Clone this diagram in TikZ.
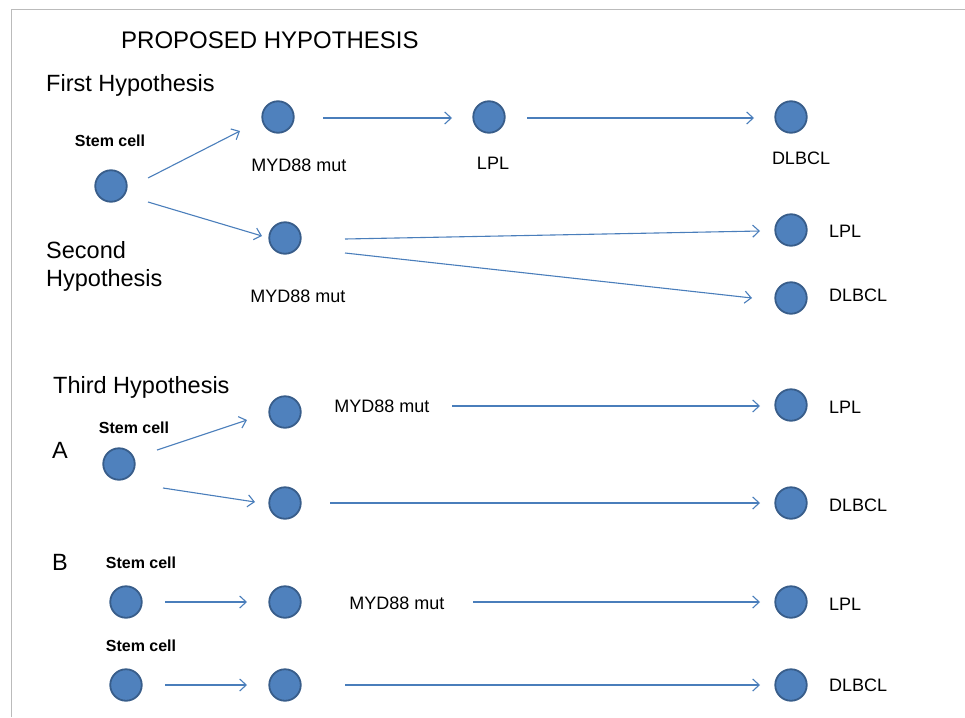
\documentclass[tikz,border=0pt]{standalone}
\usepackage{fontspec}
\setmainfont{Liberation Sans}
\usetikzlibrary{arrows.meta}
\definecolor{cellfill}{HTML}{4F81BD}
\definecolor{celldraw}{HTML}{385D8A}
\definecolor{arrowcol}{HTML}{4A7EBB}
\definecolor{framecol}{HTML}{BBBBBB}
\begin{document}
\begin{tikzpicture}[x=1pt,y=-1pt,
  cell/.style={circle,fill=cellfill,draw=celldraw,line width=1.8pt,minimum size=31.5pt,inner sep=0pt},
  lbl/.style={font=\fontsize{18}{20}\selectfont,inner sep=0pt},
  stemlbl/.style={font=\fontsize{16}{18}\selectfont\bfseries,inner sep=0pt},
  head/.style={font=\fontsize{23.5}{28}\selectfont,inner sep=0pt,anchor=west},
  conn/.style={draw=arrowcol,line width=1.1pt,-{Straight Barb[length=6.5pt,width=12pt,line width=1.1pt]}},
  plain/.style={draw=arrowcol,line width=1.1pt}]
\useasboundingbox (0,0) rectangle (965,717);
\draw[framecol,line width=1pt] (11,717) -- (11,10) -- (965,10);

% headings
\node[head,font=\fontsize{24}{28}\selectfont] (title) at (121,40) {PROPOSED HYPOTHESIS};
\node[head] (h1) at (46,85) {First Hypothesis};
\node[head,align=left] (h2) at (46,266) {Second\\Hypothesis};
\node[head] (h3) at (53,387) {Third Hypothesis};
\node[head] (la) at (52,450) {A};
\node[head] (lb) at (52,562) {B};

% first hypothesis
\node[cell] (s1) at (111,186) {};
\node[stemlbl] (s1l) at (110,141) {Stem cell};
\node[cell] (m1) at (278,117) {};
\node[lbl] (m1l) at (299,165) {MYD88 mut};
\node[cell] (p1) at (489,117) {};
\node[lbl] (p1l) at (493,163) {LPL};
\node[cell] (d1) at (791,117) {};
\node[lbl] (d1l) at (801,158) {DLBCL};
\path[conn] ([shift={(37,-8)}]s1.center) -- ([shift={(-38,14)}]m1.center);
\path[conn] ([shift={(45,1)}]m1.center) -- ([shift={(-37,1)}]p1.center);
\path[conn] ([shift={(38,1)}]p1.center) -- ([shift={(-37,1)}]d1.center);

% second hypothesis
\node[cell] (m2) at (285,238) {};
\node[lbl] (m2l) at (298,296) {MYD88 mut};
\node[cell] (p2) at (791,230) {};
\node[lbl,anchor=west] (p2l) at (829,231) {LPL};
\node[cell] (d2) at (791,298) {};
\node[lbl,anchor=west] (d2l) at (829,295) {DLBCL};
\path[conn] ([shift={(37,16)}]s1.center) -- ([shift={(-23,-2)}]m2.center);
\path[conn] ([shift={(60,1)}]m2.center) -- ([shift={(-31,1)}]p2.center);
\path[conn] ([shift={(60,15)}]m2.center) -- ([shift={(-39,0)}]d2.center);

% third hypothesis A
\node[cell] (s3) at (119,464) {};
\node[stemlbl] (s3l) at (134,428) {Stem cell};
\node[cell] (m3) at (285,412) {};
\node[lbl] (m3l) at (382,406) {MYD88 mut};
\node[cell] (p3) at (791,405) {};
\node[lbl,anchor=west] (p3l) at (829,407) {LPL};
\node[cell] (x3) at (285,503) {};
\node[cell] (d3) at (791,503) {};
\node[lbl,anchor=west] (d3l) at (829,505) {DLBCL};
\coordinate (m3a) at (452,406);
\path[conn] ([shift={(38,-14)}]s3.center) -- ([shift={(-38,8)}]m3.center);
\path[conn] ([shift={(44,24)}]s3.center) -- ([shift={(-30,-1)}]x3.center);
\path[conn] (m3a) -- ([shift={(-31,1)}]p3.center);
\path[conn] ([shift={(45,0)}]x3.center) -- ([shift={(-31,0)}]d3.center);

% third hypothesis B
\node[cell] (s4) at (126,602) {};
\node[stemlbl] (s4l) at (141,563) {Stem cell};
\node[cell] (x4) at (285,602) {};
\node[lbl] (m4l) at (397,603) {MYD88 mut};
\node[cell] (p4) at (791,602) {};
\node[lbl,anchor=west] (p4l) at (829,604) {LPL};
\coordinate (m4a) at (473,602);
\path[conn] ([shift={(39,0)}]s4.center) -- ([shift={(-38,0)}]x4.center);
\path[conn] (m4a) -- ([shift={(-31,0)}]p4.center);

\node[cell] (s5) at (126,685) {};
\node[stemlbl] (s5l) at (141,646) {Stem cell};
\node[cell] (x5) at (285,685) {};
\node[cell] (d5) at (791,685) {};
\node[lbl,anchor=west] (d5l) at (829,685) {DLBCL};
\path[conn] ([shift={(39,0)}]s5.center) -- ([shift={(-38,0)}]x5.center);
\path[conn] ([shift={(60,0)}]x5.center) -- ([shift={(-31,0)}]d5.center);
\end{tikzpicture}
\end{document}
